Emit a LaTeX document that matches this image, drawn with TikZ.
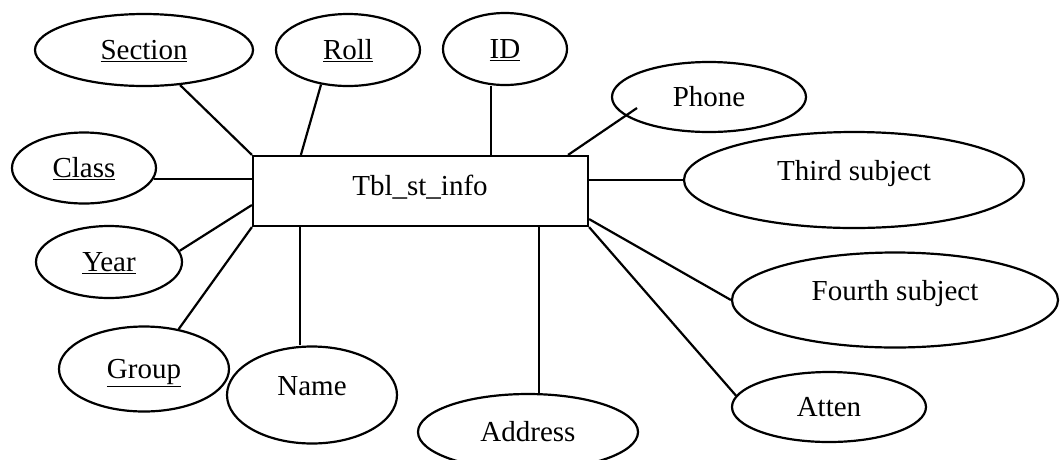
\documentclass[tikz,border=0pt]{standalone}
\usepackage{fontspec}
\setmainfont{Liberation Serif}
\usetikzlibrary{shapes.geometric,calc}
\tikzset{
  attr/.style={ellipse, draw, line width=2.2pt, inner sep=0pt,
    text height=19pt, text depth=0pt, font=\fontsize{29}{34}\selectfont},
  txtup/.style={text depth=18pt},
  entity/.style={rectangle, draw, line width=2.2pt, inner sep=0pt,
    text height=19pt, text depth=0pt, font=\fontsize{29}{34}\selectfont},
  link/.style={line width=2.2pt}
}
\begin{document}
\begin{tikzpicture}[x=1pt,y=-1pt]
\useasboundingbox[fill=white] (0,0) rectangle (1063,459);
\node[entity, minimum width=335pt, minimum height=70pt] (tbl) at (420.5,191) {};
\node[font=\fontsize{29}{34}\selectfont, inner sep=0pt] (tbltxt) at (420,187) {Tbl\_st\_info};
\node[attr, minimum width=218pt, minimum height=72pt] (sec) at (144,50) {\underline{Section}};
\node[attr, minimum width=144pt, minimum height=72pt] (roll) at (348,50) {\underline{Roll}};
\node[attr, minimum width=124pt, minimum height=72pt] (id) at (505,49) {\underline{ID}};
\node[attr, minimum width=194pt, minimum height=70pt] (phone) at (709,97) {Phone};
\node[attr, txtup, minimum width=340pt, minimum height=96pt] (third) at (854,180) {Third subject};
\node[attr, txtup, minimum width=326pt, minimum height=95pt] (fourth) at (895,300) {Fourth subject};
\node[attr, minimum width=194pt, minimum height=70pt] (atn) at (829,407) {Atten};
\node[attr, minimum width=220pt, minimum height=76pt] (addr) at (528,432) {Address};
\node[attr, txtup, minimum width=170pt, minimum height=97pt] (nm) at (312,395) {Name};
\node[attr, minimum width=170pt, minimum height=85pt] (grp) at (144,369) {\underline{Group}};
\node[attr, minimum width=146pt, minimum height=72pt] (yr) at (109,262) {\underline{Year}};
\node[attr, minimum width=144pt, minimum height=71pt] (cls) at (84,168) {\underline{Class}};
% connectors
\draw[link] (sec) -- (tbl.north west);
\draw[link] (roll.232) -- ($(tbl.north west)+(49,0)$);
\coordinate (idx) at ($(tbl.north west)+(239,0)$);
\draw[link] (idx) -- (idx |- id.south);
\draw[link] ($(tbl.north east)+(-21,0)$) -- ($(phone.center)+(-72,11)$);
\draw[link] (third.west) -- (third.west -| tbl.east);
\draw[link] ($(tbl.south east)+(0,-8)$) -- (fourth.west);
\draw[link] (tbl.south east) -- (atn.173);
\coordinate (adx) at ($(tbl.south west)+(287,0)$);
\draw[link] (adx) -- (adx |- addr.north);
\coordinate (nmx) at ($(tbl.south west)+(48,0)$);
\draw[link] (nmx) -- (nmx |- nm.north);
\draw[link] (grp.49) -- (tbl.south west);
\draw[link] (yr.9) -- ($(tbl.west)+(0,14)$);
\draw[link] (cls.-9) -- (cls.-9 -| tbl.west);
\end{tikzpicture}
\end{document}
